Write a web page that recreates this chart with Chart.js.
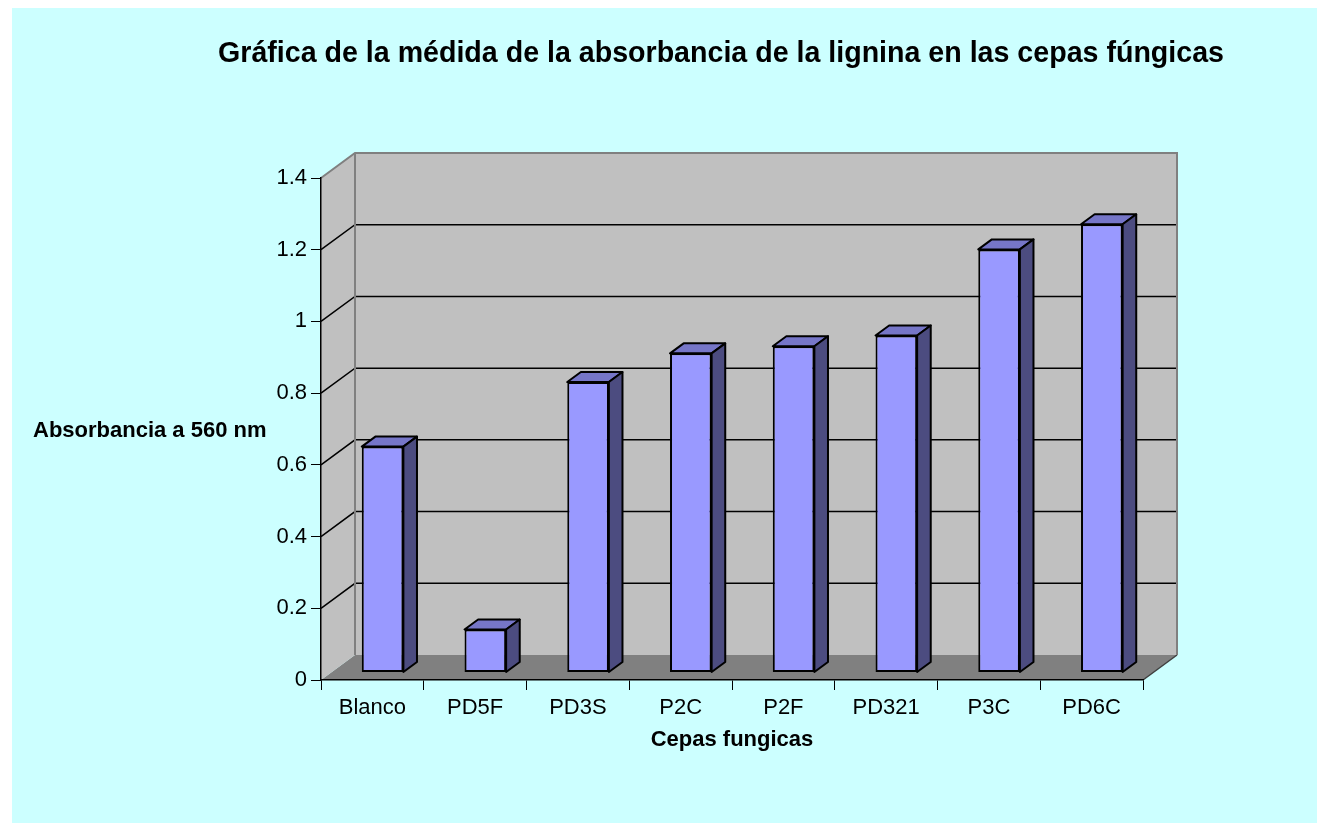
<!DOCTYPE html>
<html>
<head>
<meta charset="utf-8">
<script src="https://cdn.jsdelivr.net/npm/chart.js@4.4.0/dist/chart.umd.min.js"></script>
<style>
  body { margin: 0; background: #fff; }
  canvas { display: block; }
</style>
</head>
<body>
<canvas id="myChart" width="1317" height="823"></canvas>
<script>
const categories = ['Blanco', 'PD5F', 'PD3S', 'P2C', 'P2F', 'PD321', 'P3C', 'PD6C'];
const absorbance = [0.63, 0.12, 0.81, 0.89, 0.91, 0.94, 1.18, 1.25];
const yMin = 0;
const yMax = 1.4;
const yStep = 0.2;

const chartTitle = 'Gráfica de la médida de la absorbancia de la lignina en las cepas fúngicas';
const yTitle = 'Absorbancia a 560 nm';
const xTitle = 'Cepas fungicas';

// 3d depth of the plot box
const depthX = 34;
const depthY = 25;
const barFront = 0.3;
const barBack = 0.7;

const fontFamily = '"Liberation Sans", Arial, sans-serif';
Chart.defaults.font.family = fontFamily;

const walls = {
  id: 'walls',
  beforeDraw(chart) {
    const { ctx, chartArea: a, scales } = chart;
    ctx.save();
    ctx.fillStyle = '#CCFFFF';
    ctx.fillRect(12, 8, chart.width - 12, chart.height - 8);

    // floor
    ctx.fillStyle = '#808080';
    ctx.beginPath();
    ctx.moveTo(a.left, a.bottom);
    ctx.lineTo(a.right, a.bottom);
    ctx.lineTo(a.right + depthX, a.bottom - depthY);
    ctx.lineTo(a.left + depthX, a.bottom - depthY);
    ctx.closePath();
    ctx.fill();
    ctx.strokeStyle = '#404040';
    ctx.lineWidth = 1.5;
    ctx.beginPath();
    ctx.moveTo(a.right, a.bottom);
    ctx.lineTo(a.right + depthX, a.bottom - depthY);
    ctx.stroke();

    // side wall + back wall
    ctx.fillStyle = '#C0C0C0';
    ctx.beginPath();
    ctx.moveTo(a.left, a.bottom);
    ctx.lineTo(a.left, a.top);
    ctx.lineTo(a.left + depthX, a.top - depthY);
    ctx.lineTo(a.left + depthX, a.bottom - depthY);
    ctx.closePath();
    ctx.fill();
    ctx.fillRect(a.left + depthX, a.top - depthY, a.right - a.left, a.bottom - a.top);

    // grid lines
    ctx.strokeStyle = '#000';
    ctx.lineWidth = 1.5;
    for (let v = yStep; v < yMax - 1e-9; v += yStep) {
      const py = scales.y.getPixelForValue(v);
      ctx.beginPath();
      ctx.moveTo(a.left, py);
      ctx.lineTo(a.left + depthX, py - depthY);
      ctx.lineTo(a.right + depthX, py - depthY);
      ctx.stroke();
    }

    // wall edges
    ctx.strokeStyle = '#808080';
    ctx.lineWidth = 2;
    ctx.beginPath();
    ctx.moveTo(a.left, a.top);
    ctx.lineTo(a.left + depthX, a.top - depthY);
    ctx.lineTo(a.right + depthX, a.top - depthY);
    ctx.lineTo(a.right + depthX, a.bottom - depthY);
    ctx.moveTo(a.left + depthX, a.top - depthY);
    ctx.lineTo(a.left + depthX, a.bottom - depthY);
    ctx.stroke();
    ctx.restore();
  },
  beforeDatasetsDraw(chart) {
    chart.ctx.save();
    chart.ctx.translate(depthX * barFront, -depthY * barFront);
  },
  afterDatasetsDraw(chart) {
    const ctx = chart.ctx;
    ctx.restore();
    const fx = depthX * barFront, fy = depthY * barFront;
    const bx = depthX * (barBack - barFront), by = depthY * (barBack - barFront);
    ctx.save();
    ctx.strokeStyle = '#000';
    ctx.lineWidth = 2;
    ctx.lineJoin = 'round';
    chart.getDatasetMeta(0).data.forEach(bar => {
      const left = bar.x - bar.width / 2 + fx;
      const right = bar.x + bar.width / 2 + fx;
      const top = bar.y - fy;
      const bottom = bar.base - fy;
      ctx.fillStyle = '#7676C8';
      ctx.beginPath();
      ctx.moveTo(left, top);
      ctx.lineTo(right, top);
      ctx.lineTo(right + bx, top - by);
      ctx.lineTo(left + bx, top - by);
      ctx.closePath();
      ctx.fill();
      ctx.stroke();
      ctx.fillStyle = '#4C4C80';
      ctx.beginPath();
      ctx.moveTo(right, top);
      ctx.lineTo(right + bx, top - by);
      ctx.lineTo(right + bx, bottom - by);
      ctx.lineTo(right, bottom);
      ctx.closePath();
      ctx.fill();
      ctx.stroke();
    });
    ctx.restore();
  },
  afterDraw(chart) {
    const ctx = chart.ctx;
    ctx.save();
    ctx.fillStyle = '#000';
    ctx.textBaseline = 'alphabetic';
    ctx.font = 'bold 28.6px ' + fontFamily;
    ctx.textAlign = 'center';
    ctx.fillText(chartTitle, 721, 62);
    ctx.font = 'bold 22px ' + fontFamily;
    ctx.textAlign = 'left';
    ctx.fillText(yTitle, 33, 437);
    ctx.restore();
  }
};

const ctx = document.getElementById('myChart').getContext('2d');
const myChart = new Chart(ctx, {
  type: 'bar',
  data: {
    labels: categories,
    datasets: [
      {
        label: 'Absorbancia',
        data: absorbance,
        backgroundColor: '#9999FF',
        borderColor: '#000',
        borderWidth: 2,
        borderSkipped: false,
        barPercentage: 0.405,
        categoryPercentage: 1,
        clip: false,
      },
    ],
  },
  plugins: [walls],
  options: {
    responsive: false,
    animation: false,
    devicePixelRatio: 1,
    layout: {
      padding: { left: 277, right: 174, top: 178, bottom: 70 },
    },
    plugins: {
      legend: { display: false },
      tooltip: { enabled: false },
      title: { display: false },
    },
    scales: {
      x: {
        grid: {
          offset: true,
          drawOnChartArea: false,
          tickLength: 10,
          color: '#000',
        },
        border: { color: '#000', width: 1.5 },
        ticks: {
          color: '#000',
          padding: 5,
          font: { size: 22 },
        },
        title: {
          display: true,
          text: xTitle,
          color: '#000',
          font: { size: 22, weight: 'bold' },
          padding: { top: 0, bottom: 0 },
        },
        afterFit(scale) { scale.height = 73; },
      },
      y: {
        min: yMin,
        max: yMax,
        grid: {
          drawOnChartArea: false,
          tickLength: 10,
          color: '#000',
        },
        border: { color: '#000', width: 1.5 },
        ticks: {
          stepSize: yStep,
          color: '#000',
          padding: 4,
          font: { size: 22 },
          callback: function (value) {
            return String(Number(value.toFixed(1)));
          },
        },
        afterFit(scale) { scale.width = 44; },
      },
    },
  },
});
</script>
</body>
</html>
